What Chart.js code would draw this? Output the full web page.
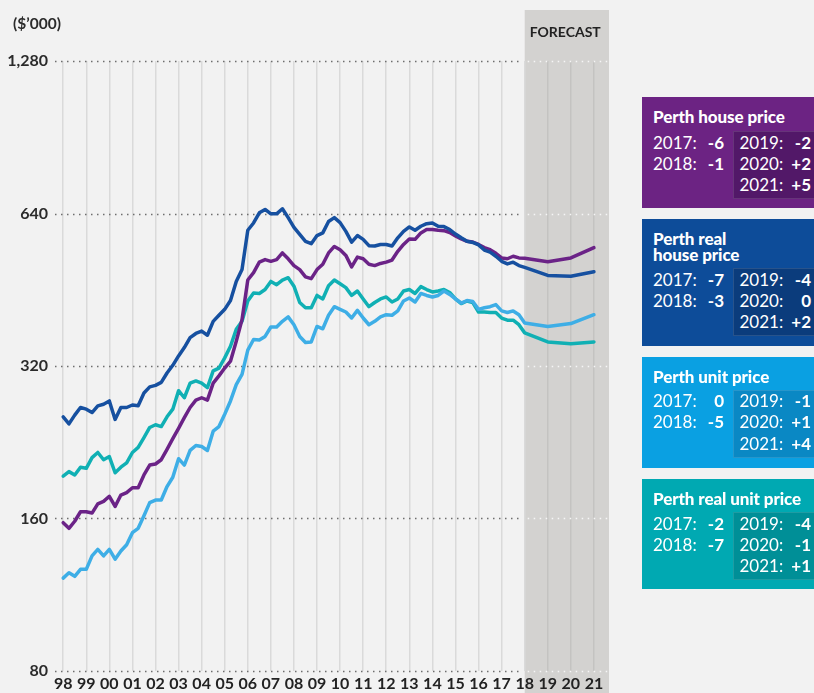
<!DOCTYPE html>
<html>
<head>
<meta charset="utf-8">
<script src="https://cdn.jsdelivr.net/npm/chart.js@4.4.0/dist/chart.umd.min.js"></script>
<style>
  html, body { margin: 0; padding: 0; background: #f2f2f2; overflow: hidden; }
  #wrap { position: relative; width: 814px; height: 693px; overflow: hidden; font-family: Lato, "Open Sans", sans-serif; }
  #chart { position: absolute; left: 0; top: 0; }
  .unit { position: absolute; left: 13px; top: 14px; font-weight: bold; font-size: 15.5px; color: #2b2b2b; }
  .box { position: absolute; left: 642px; width: 200px; color: #fff; }
  .box .title { position: absolute; left: 11px; font-weight: 900; font-size: 17px; line-height: 16px; white-space: nowrap; letter-spacing: -0.1px; }
  .box .inner { position: absolute; left: 91px; right: 0; height: 68px; box-sizing: border-box; border: 1px solid rgba(255,255,255,0.12); }
  .box span { position: absolute; font-size: 17px; line-height: 20px; white-space: nowrap; }
  .box .yr { font-weight: 400; }
  .box .val { font-weight: bold; text-align: right; }
</style>
</head>
<body>
<div id="wrap">
  <canvas id="chart" width="814" height="693"></canvas>
  <div class="unit">($’000)</div>
</div>
<script>
// quarterly history from 1998 Q1 to 2018 Q1, annual forecast after that
const histStart = 1998;
const forecastStart = 2018;
const forecastYears = [2019, 2020, 2021];
const tickYears = [1998, 1999, 2000, 2001, 2002, 2003, 2004, 2005, 2006, 2007, 2008, 2009,
  2010, 2011, 2012, 2013, 2014, 2015, 2016, 2017, 2018, 2019, 2020, 2021];
const yTicks = [80, 160, 320, 640, 1280];

const realHousePrice = [
  254, 246, 256, 265, 263, 259, 267, 269, 273, 251, 265, 265, 268, 267, 283, 291,
  293, 297, 310, 321, 335, 348, 364, 371, 375, 368, 392, 403, 414, 431, 470, 496,
  593, 613, 642, 652, 639, 639, 654, 628, 601, 582, 564, 558, 579, 586, 617, 628,
  614, 590, 562, 579, 569, 553, 552, 556, 556, 552, 573, 590, 602, 593, 604, 611,
  613, 604, 603, 595, 583, 573, 564, 561, 555, 542, 537, 527, 515, 509, 513, 505,
  501];
const realHouseForecast = [483, 481, 491];

const housePrice = [
  157, 153, 158, 165, 165, 164, 171, 173, 177, 169, 178, 180, 184, 184, 195, 204,
  205, 209, 219, 230, 241, 253, 265, 274, 277, 274, 296, 306, 317, 327, 358, 395,
  473, 489, 513, 519, 515, 519, 535, 521, 505, 496, 480, 476, 496, 508, 535, 551,
  543, 529, 502, 525, 521, 508, 505, 510, 513, 518, 539, 556, 570, 569, 586, 595,
  595, 593, 592, 587, 578, 570, 564, 562, 556, 548, 543, 534, 523, 521, 527, 523,
  522];
const houseForecast = [514, 523, 548];

const unitPrice = [
  122, 125, 123, 127, 127, 135, 139, 135, 139, 133, 138, 142, 150, 153, 162, 172,
  174, 174, 185, 193, 210, 204, 218, 223, 222, 218, 238, 243, 257, 273, 294, 308,
  344, 361, 360, 366, 382, 382, 392, 400, 386, 366, 356, 357, 383, 379, 403, 419,
  414, 409, 398, 412, 398, 386, 392, 400, 404, 403, 411, 430, 436, 428, 445, 441,
  438, 441, 450, 443, 434, 426, 431, 429, 414, 417, 419, 423, 411, 408, 411, 404,
  389];
const unitForecast = [383, 388, 404];

const realUnitPrice = [
  194, 198, 195, 202, 201, 211, 216, 209, 212, 197, 202, 206, 216, 221, 231, 242,
  245, 243, 254, 263, 286, 277, 296, 299, 296, 290, 313, 317, 332, 350, 378, 392,
  430, 446, 445, 453, 470, 463, 473, 478, 460, 427, 417, 417, 441, 434, 461, 473,
  465, 457, 441, 450, 434, 419, 427, 434, 438, 428, 434, 450, 453, 445, 459, 453,
  448, 450, 453, 447, 434, 425, 430, 427, 409, 409, 408, 408, 398, 394, 394, 386,
  372];
const realUnitForecast = [357, 354, 357];

// annual % changes shown in the side boxes
const changeLabels = ['2017:', '2018:', '2019:', '2020:', '2021:'];
const houseChange = ['-6', '-1', '-2', '+2', '+5'];
const realHouseChange = ['-7', '-3', '-4', '0', '+2'];
const unitChange = ['0', '-5', '-1', '+1', '+4'];
const realUnitChange = ['-2', '-7', '-4', '-1', '+1'];

function toPoints(hist, fc) {
  const pts = hist.map((v, i) => ({ x: histStart + i / 4, y: v }));
  forecastYears.forEach((yr, i) => pts.push({ x: yr, y: fc[i] }));
  return pts;
}

function lineSet(label, color, hist, fc) {
  return {
    label: label,
    data: toPoints(hist, fc),
    borderColor: color,
    borderWidth: 3.5,
    borderJoinStyle: 'round',
    borderCapStyle: 'round',
    pointRadius: 0,
    fill: false,
    tension: 0
  };
}

const forecastPlugin = {
  id: 'forecast',
  beforeDraw(chart) {
    const { ctx, chartArea, scales: { x } } = chart;
    const x0 = x.getPixelForValue(forecastStart);
    ctx.save();
    ctx.fillStyle = '#d3d2d0';
    ctx.fillRect(x0, 10, chartArea.right + 1 - x0, chart.height - 10);
    ctx.fillStyle = '#222';
    ctx.font = 'bold 14px Lato';
    ctx.textBaseline = 'middle';
    ctx.fillText('FORECAST', x0 + 5, 32);
    ctx.restore();
  },
  beforeDatasetsDraw(chart) {
    const { ctx, chartArea, scales: { x, y } } = chart;
    const x0 = x.getPixelForValue(forecastStart);
    ctx.save();
    ctx.lineWidth = 1.5;
    ctx.setLineDash([1.5, 4.5]);
    yTicks.forEach(function (v) {
      const py = Math.round(y.getPixelForValue(v)) + 0.5;
      ctx.strokeStyle = '#6e6e6e';
      ctx.beginPath(); ctx.moveTo(chartArea.left, py); ctx.lineTo(x0 - 2, py); ctx.stroke();
      ctx.strokeStyle = '#f6f6f6';
      ctx.beginPath(); ctx.moveTo(x0 + 3, py); ctx.lineTo(chartArea.right, py); ctx.stroke();
    });
    ctx.restore();
  }
};

Chart.defaults.font.family = 'Lato';

new Chart(document.getElementById('chart').getContext('2d'), {
  type: 'line',
  data: {
    datasets: [
      lineSet('Perth real house price', '#1650a0', realHousePrice, realHouseForecast),
      lineSet('Perth house price', '#6b2387', housePrice, houseForecast),
      lineSet('Perth unit price', '#3eaee6', unitPrice, unitForecast),
      lineSet('Perth real unit price', '#10b0b4', realUnitPrice, realUnitForecast)
    ]
  },
  options: {
    responsive: false,
    animation: false,
    layout: { padding: { top: 61, right: 206, left: 0, bottom: 0 } },
    plugins: { legend: { display: false }, tooltip: { enabled: false } },
    scales: {
      x: {
        type: 'linear',
        min: 1997.645,
        max: 2021.61,
        afterBuildTicks: function (scale) { scale.ticks = tickYears.map(v => ({ value: v })); },
        afterFit: function (scale) { scale.height = 22; },
        ticks: {
          autoSkip: false, maxRotation: 0, minRotation: 0, padding: 3,
          color: '#222', font: { size: 16, weight: 'bold' },
          callback: v => String(v).slice(2)
        },
        grid: {
          drawTicks: false,
          lineWidth: 1.5,
          color: c => (c.tick && c.tick.value > forecastStart) ? '#c4c3c1' : '#dadada'
        },
        border: { display: false }
      },
      y: {
        type: 'logarithmic',
        min: 80,
        max: 1280,
        afterBuildTicks: function (scale) { scale.ticks = yTicks.map(v => ({ value: v })); },
        afterFit: function (scale) { scale.width = 55; },
        ticks: {
          padding: 7, color: '#2b2b2b', font: { size: 16, weight: 'bold' },
          callback: v => v === 1280 ? '1,280' : String(v)
        },
        grid: { display: false, drawTicks: false },
        border: { display: false }
      }
    }
  },
  plugins: [forecastPlugin]
});

// side boxes
const boxes = [
  { top: 97, height: 111, title: ['Perth house price'], bg: '#6c2383', inner: '#521868', innerTop: 34, vals: houseChange },
  { top: 219, height: 127, title: ['Perth real', 'house price'], bg: '#0d4c99', inner: '#0b3c7c', innerTop: 49, vals: realHouseChange },
  { top: 357, height: 111, title: ['Perth unit price'], bg: '#0aa0e2', inner: '#0a88c4', innerTop: 32.5, vals: unitChange },
  { top: 479, height: 110, title: ['Perth real unit price'], bg: '#00a9b2', inner: '#008f97', innerTop: 33, vals: realUnitChange }
];
const wrap = document.getElementById('wrap');
boxes.forEach(function (b) {
  const d = document.createElement('div');
  d.className = 'box';
  d.style.top = b.top + 'px';
  d.style.height = b.height + 'px';
  d.style.background = b.bg;
  b.title.forEach(function (t, i) {
    const el = document.createElement('div');
    el.className = 'title';
    el.style.top = (12 + i * 16) + 'px';
    el.textContent = t;
    d.appendChild(el);
  });
  const inner = document.createElement('div');
  inner.className = 'inner';
  inner.style.top = b.innerTop + 'px';
  inner.style.background = b.inner;
  d.appendChild(inner);
  const rowCenters = [11.5, 32.5, 54];
  changeLabels.forEach(function (lab, i) {
    const right = i >= 2;
    const r = right ? i - 2 : i;
    const top = b.innerTop + rowCenters[r] - 10;
    const yr = document.createElement('span');
    yr.className = 'yr';
    yr.style.top = top + 'px';
    yr.style.left = (right ? 97.5 : 11) + 'px';
    yr.textContent = lab;
    const val = document.createElement('span');
    val.className = 'val';
    val.style.top = top + 'px';
    val.style.left = (right ? 133 : 50) + 'px';
    val.style.width = (right ? 36 : 32) + 'px';
    val.textContent = b.vals[i];
    d.appendChild(yr);
    d.appendChild(val);
  });
  wrap.appendChild(d);
});
</script>
</body>
</html>
